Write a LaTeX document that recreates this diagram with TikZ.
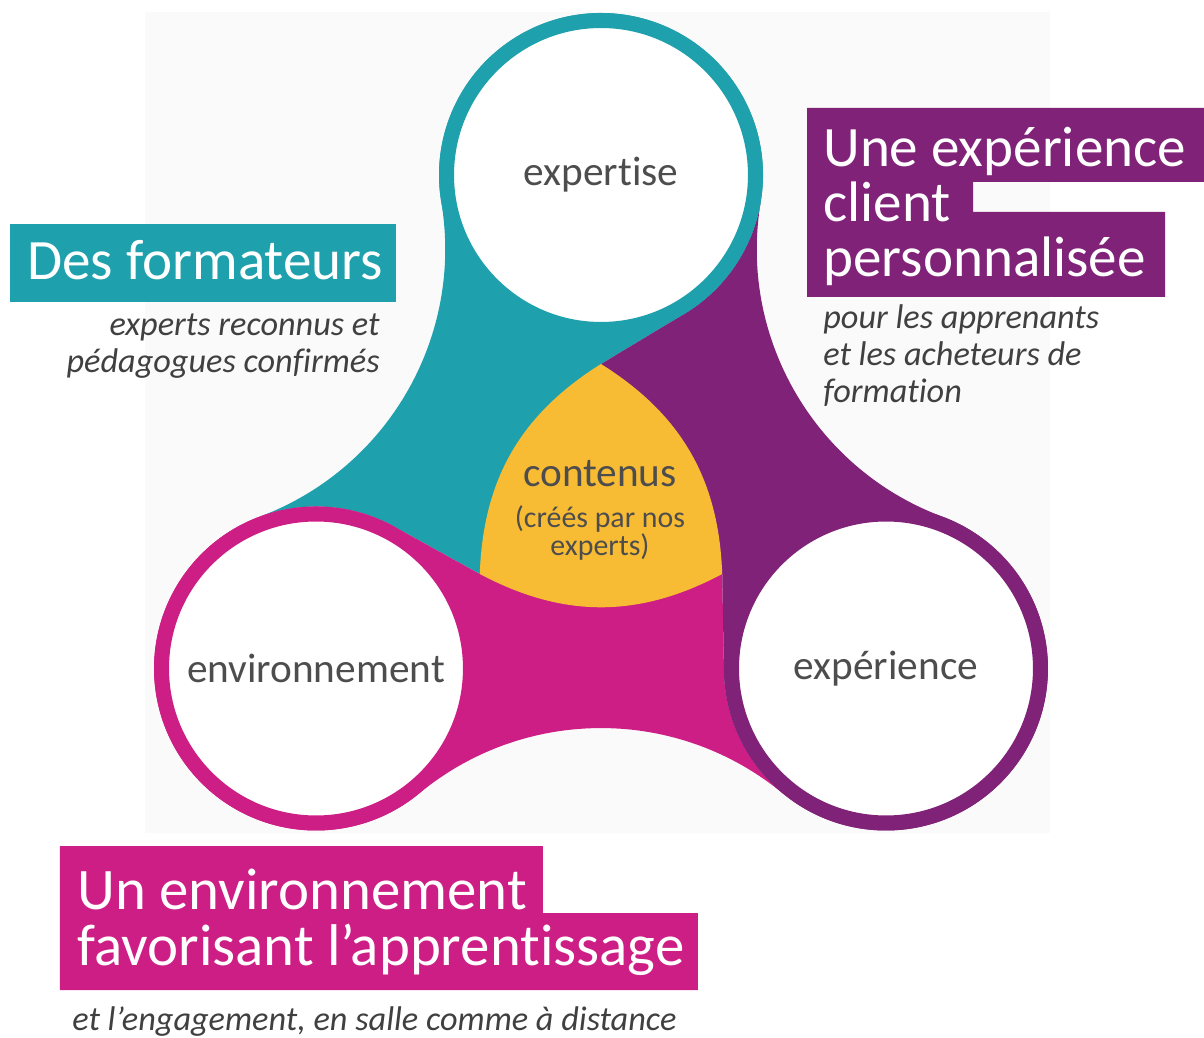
\documentclass[tikz,border=0pt]{standalone}
\usepackage{fontspec}
\setmainfont{Carlito}[Ligatures=NoCommon]
\usetikzlibrary{positioning}

\definecolor{tealc}{RGB}{31,161,173}
\definecolor{purplec}{RGB}{128,34,120}
\definecolor{magentac}{RGB}{205,30,133}
\definecolor{yellowc}{RGB}{248,188,52}
\definecolor{labelgray}{RGB}{77,77,77}
\definecolor{notegray}{RGB}{64,64,64}
\definecolor{bgc}{RGB}{250,250,250}

\begin{document}
\begin{tikzpicture}[x=0.02cm, y=0.02cm,
  ring/.style={circle, draw=#1, line width=0.3cm, fill=white, minimum size=6.18cm, inner sep=0pt, text=labelgray, font=\fontsize{23.5}{26}\selectfont},
  title/.style={text=white, font=\fontsize{32.5}{31.5}\selectfont, align=left, inner sep=0pt, anchor=base west},
  note/.style={text=notegray, font=\fontsize{19.5}{21.3}\selectfont\itshape, inner sep=0pt, align=left, anchor=base west},
  centre/.style={text=labelgray, inner sep=0pt, align=center}
]
\useasboundingbox (-601,-534) rectangle (603,504);
\fill[bgc] (-456,492) rectangle (449,-329);

% three arms, one per colour, turned about the middle
\foreach \ang/\col in {0/tealc, 120/magentac, 240/purplec}
  \fill[\col, rotate=\ang] (0,140) -- ([shift={(-59:162)}]0,329)
    arc[start angle=-59, end angle=189.55, radius=162]
    arc[start angle=9.55, end angle=-69.55, radius=285.5]
    arc[start angle=110.45, end angle=61, radius=162]
    -- (-121.2,-70) -- cycle;

% contents in the middle
\fill[yellowc] (0,140) to[bend right=28] (-121.2,-70) to[bend right=28] (121.2,-70) to[bend right=28] (0,140) -- cycle;

\node[ring=tealc] (expertise) at (0,329) {expertise};
\node[ring=magentac] (environnement) at (-285,-164.5) {environnement};
\node[ring=purplec] (experience) at (285,-164.5) {expérience};

\node[centre, font=\fontsize{23.5}{26}\selectfont, anchor=base] (contenus) at (-1,17) {contenus};
\node[centre, font=\fontsize{17}{16}\selectfont, below=0.36cm of contenus] (auteurs) {(créés par nos\\experts)};

% titles (multi-line nodes sit on their last baseline)
\fill[tealc] (-591,280) rectangle (-205,202);
\node[title] (formateurs) at (-574,224) {Des formateurs};
\node[note, align=right, anchor=base east] (formateurs-note) at (-221,131) {experts reconnus et\\pédagogues confirmés};

\fill[purplec] (206,396) -- (603,396) -- (603,322) -- (372,322) -- (372,292) -- (564,292) -- (564,207) -- (206,207) -- cycle;
\node[title] (client) at (222,227) {Une expérience\\client\\personnalisée};
\node[note] (client-note) at (222,101) {pour les apprenants\\et les acheteurs de\\formation};

\fill[magentac] (-541,-342) -- (-58,-342) -- (-58,-409) -- (97,-409) -- (97,-486) -- (-541,-486) -- cycle;
\node[title, font=\fontsize{33.5}{31.5}\selectfont] (cadre) at (-524,-461) {Un environnement\\favorisant l’apprentissage};
\node[note] (cadre-note) at (-529,-526) {et l’engagement, en salle comme à distance};
\end{tikzpicture}
\end{document}
